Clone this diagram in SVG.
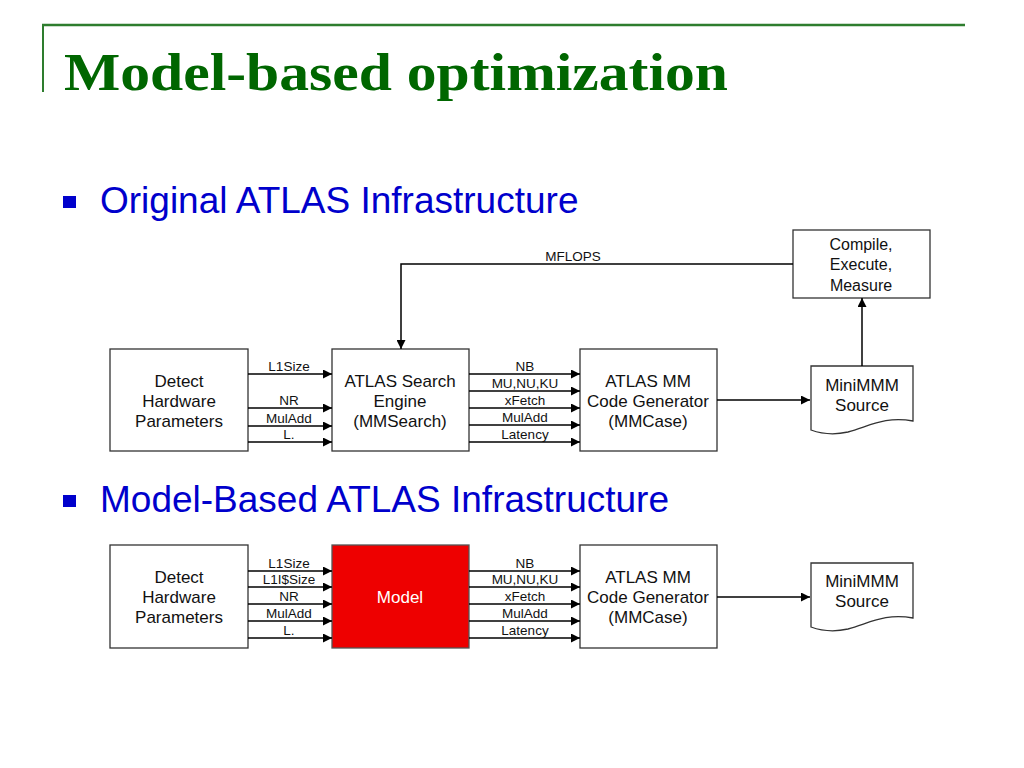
<svg xmlns="http://www.w3.org/2000/svg" width="1024" height="768" viewBox="0 0 1024 768">
<defs>
<marker id="ah" viewBox="0 0 10 10" refX="10" refY="5" markerWidth="11" markerHeight="9" markerUnits="userSpaceOnUse" orient="auto">
<path d="M0,0 L10,5 L0,10 Z" fill="#000"/>
</marker>
<style>
.box{fill:#fff;stroke:#333;stroke-width:1.3}
.red{fill:#ee0000;stroke:#555;stroke-width:1.3}
.bt{font-family:"Liberation Sans",Arial,sans-serif;font-size:17px;fill:#111;text-anchor:middle}
.lb{font-family:"Liberation Sans",Arial,sans-serif;font-size:13.5px;fill:#111;text-anchor:middle}
.ln{stroke:#000;stroke-width:1.5;fill:none}
.ar{stroke:#000;stroke-width:1.5;fill:none;marker-end:url(#ah)}
.bul{font-family:"Liberation Sans",Arial,sans-serif;font-size:37px;fill:#0000cc}
</style>
</defs>
<rect width="1024" height="768" fill="#fff"/>
<g id="title">
<line x1="42" y1="25" x2="965" y2="25" stroke="#2e7d2e" stroke-width="2.5"/>
<line x1="43" y1="25" x2="43" y2="92" stroke="#2e7d2e" stroke-width="2"/>
<text x="64" y="90" font-family="'Liberation Serif','Times New Roman',serif" font-weight="bold" font-size="52" fill="#006600" textLength="664" lengthAdjust="spacingAndGlyphs">Model-based optimization</text>
</g>
<g id="bullet1">
<rect x="63" y="196" width="13" height="12" fill="#0000cc"/>
<text class="bul" x="100" y="213">Original ATLAS Infrastructure</text>
</g>
<g id="bullet2">
<rect x="63" y="495" width="13" height="12" fill="#0000cc"/>
<text class="bul" x="100" y="512">Model-Based ATLAS Infrastructure</text>
</g>

<g id="detect1"><rect class="box" x="110" y="349" width="138" height="102"/>
<text class="bt" x="179" y="387">Detect</text><text class="bt" x="179" y="407">Hardware</text><text class="bt" x="179" y="427">Parameters</text></g>
<g id="search"><rect class="box" x="332" y="349" width="137" height="102"/>
<text class="bt" x="400" y="387">ATLAS Search</text><text class="bt" x="400" y="407">Engine</text><text class="bt" x="400" y="427">(MMSearch)</text></g>
<g id="codegen1"><rect class="box" x="580" y="349" width="137" height="102"/>
<text class="bt" x="648" y="387">ATLAS MM</text><text class="bt" x="648" y="407">Code Generator</text><text class="bt" x="648" y="427">(MMCase)</text></g>
<g id="mini1"><path class="box" d="M811,366 H913 V421 C885,416 870,426 848,432 C835,435 822,434 811,430 Z"/>
<text class="bt" x="862" y="391">MiniMMM</text><text class="bt" x="862" y="411">Source</text></g>
<g id="compile"><rect class="box" x="793" y="230" width="137" height="68"/>
<text class="bt" x="861" y="250" style="font-size:16px">Compile,</text><text class="bt" x="861" y="270" style="font-size:16px">Execute,</text><text class="bt" x="861" y="291" style="font-size:16px">Measure</text></g>

<g id="detect2"><rect class="box" x="110" y="545" width="138" height="103"/>
<text class="bt" x="179" y="583">Detect</text><text class="bt" x="179" y="603">Hardware</text><text class="bt" x="179" y="623">Parameters</text></g>
<g id="model"><rect class="red" x="332" y="545" width="137" height="103"/>
<text class="bt" x="400" y="603" style="fill:#fff">Model</text></g>
<g id="codegen2"><rect class="box" x="580" y="545" width="137" height="103"/>
<text class="bt" x="648" y="583">ATLAS MM</text><text class="bt" x="648" y="603">Code Generator</text><text class="bt" x="648" y="623">(MMCase)</text></g>
<g id="mini2"><path class="box" d="M811,563 H913 V618 C885,613 870,623 848,629 C835,632 822,631 811,627 Z"/>
<text class="bt" x="862" y="587">MiniMMM</text><text class="bt" x="862" y="607">Source</text></g>

<g id="connectors">
<polyline class="ar" points="793,264 401,264 401,349"/>
<text class="lb" x="573" y="261">MFLOPS</text>
<line class="ar" x1="862" y1="366" x2="862" y2="298"/>
<line class="ar" x1="717" y1="400" x2="810" y2="400"/>
<line class="ar" x1="717" y1="597" x2="810" y2="597"/>

<line class="ar" x1="248" y1="374" x2="332" y2="374"/>
<line class="ar" x1="248" y1="408" x2="332" y2="408"/>
<line class="ar" x1="248" y1="426" x2="332" y2="426"/>
<line class="ar" x1="248" y1="442" x2="332" y2="442"/>
<text class="lb" x="289" y="371">L1Size</text>
<text class="lb" x="289" y="405">NR</text>
<text class="lb" x="289" y="423">MulAdd</text>
<text class="lb" x="289" y="439">L.</text>

<line class="ar" x1="469" y1="374" x2="580" y2="374"/>
<line class="ar" x1="469" y1="391" x2="580" y2="391"/>
<line class="ar" x1="469" y1="408" x2="580" y2="408"/>
<line class="ar" x1="469" y1="425" x2="580" y2="425"/>
<line class="ar" x1="469" y1="442" x2="580" y2="442"/>
<text class="lb" x="525" y="371">NB</text>
<text class="lb" x="525" y="388">MU,NU,KU</text>
<text class="lb" x="525" y="405">xFetch</text>
<text class="lb" x="525" y="422">MulAdd</text>
<text class="lb" x="525" y="439">Latency</text>

<line class="ar" x1="248" y1="571" x2="332" y2="571"/>
<line class="ar" x1="248" y1="587" x2="332" y2="587"/>
<line class="ar" x1="248" y1="604" x2="332" y2="604"/>
<line class="ar" x1="248" y1="621" x2="332" y2="621"/>
<line class="ar" x1="248" y1="638" x2="332" y2="638"/>
<text class="lb" x="289" y="568">L1Size</text>
<text class="lb" x="289" y="584">L1I$Size</text>
<text class="lb" x="289" y="601">NR</text>
<text class="lb" x="289" y="618">MulAdd</text>
<text class="lb" x="289" y="635">L.</text>

<line class="ar" x1="469" y1="571" x2="580" y2="571"/>
<line class="ar" x1="469" y1="587" x2="580" y2="587"/>
<line class="ar" x1="469" y1="604" x2="580" y2="604"/>
<line class="ar" x1="469" y1="621" x2="580" y2="621"/>
<line class="ar" x1="469" y1="638" x2="580" y2="638"/>
<text class="lb" x="525" y="568">NB</text>
<text class="lb" x="525" y="584">MU,NU,KU</text>
<text class="lb" x="525" y="601">xFetch</text>
<text class="lb" x="525" y="618">MulAdd</text>
<text class="lb" x="525" y="635">Latency</text>
</g>
</svg>
